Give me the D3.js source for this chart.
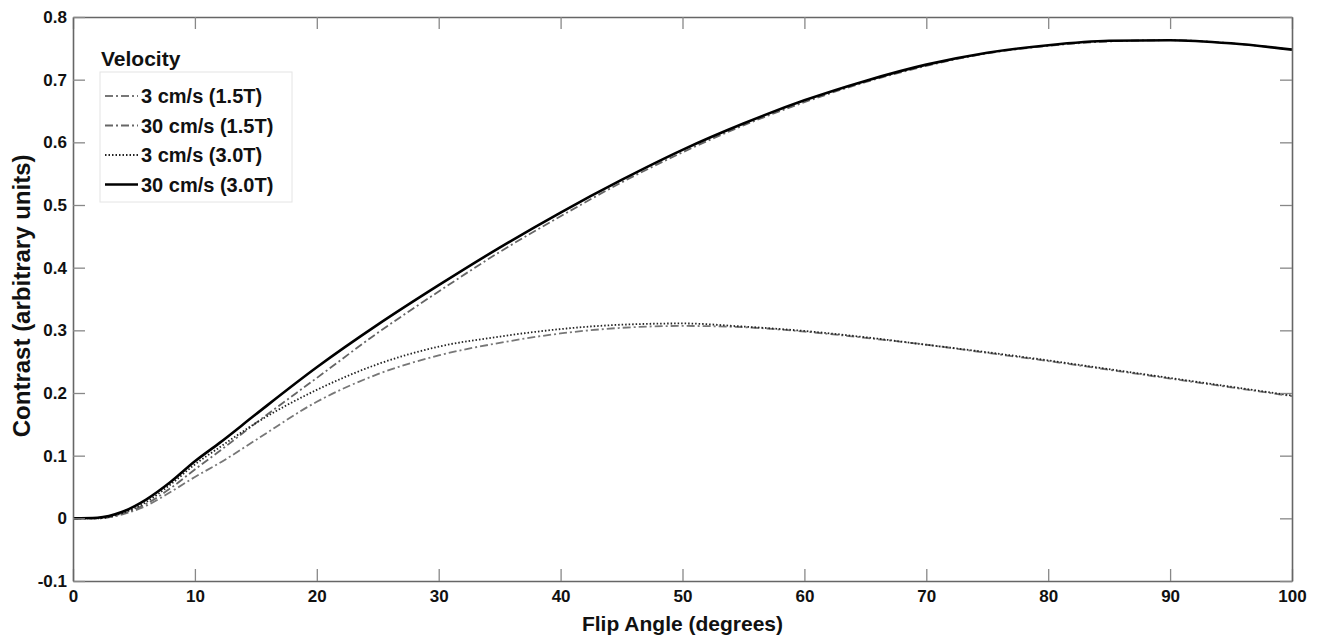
<!DOCTYPE html>
<html>
<head>
<meta charset="utf-8">
<script src="https://cdn.jsdelivr.net/npm/d3@7.9.0/dist/d3.min.js"></script>
<style>
  html, body { margin: 0; padding: 0; background: #fff; }
  svg { display: block; }
  text { font-family: "Liberation Sans", Arial, sans-serif; font-weight: bold; fill: #111; }
</style>
</head>
<body>
<svg id="chart"></svg>
<script>
const flipAngles = [0, 2, 4, 6, 8, 10, 12, 15, 20, 25, 30, 35, 40, 45, 50, 55, 60, 65, 70, 75, 80, 85, 90, 95, 100];

// contrast for each velocity / field strength
const slow15 = [0, 0, 0.006, 0.02, 0.042, 0.066, 0.088, 0.125, 0.186, 0.23, 0.26, 0.28, 0.295, 0.304, 0.307, 0.305, 0.298, 0.288, 0.277, 0.264, 0.251, 0.237, 0.223, 0.209, 0.195];
const fast15 = [0, 0, 0.007, 0.023, 0.048, 0.078, 0.107, 0.152, 0.224, 0.296, 0.362, 0.425, 0.482, 0.536, 0.584, 0.627, 0.664, 0.696, 0.722, 0.742, 0.754, 0.761, 0.763, 0.758, 0.748];
const slow30 = [0, 0, 0.008, 0.026, 0.054, 0.086, 0.113, 0.152, 0.205, 0.246, 0.274, 0.29, 0.302, 0.309, 0.311, 0.306, 0.299, 0.289, 0.277, 0.265, 0.252, 0.238, 0.224, 0.21, 0.196];
const fast30 = [0, 0.001, 0.01, 0.03, 0.058, 0.091, 0.12, 0.166, 0.241, 0.309, 0.372, 0.432, 0.488, 0.54, 0.588, 0.63, 0.667, 0.698, 0.724, 0.743, 0.755, 0.762, 0.763, 0.758, 0.748];

const seriesNames = ["3 cm/s (1.5T)", "30 cm/s (1.5T)", "3 cm/s (3.0T)", "30 cm/s (3.0T)"];
const xTicks = [0, 10, 20, 30, 40, 50, 60, 70, 80, 90, 100];
const yTicks = [-0.1, 0, 0.1, 0.2, 0.3, 0.4, 0.5, 0.6, 0.7, 0.8];
const yTickLabels = ["-0.1", "0", "0.1", "0.2", "0.3", "0.4", "0.5", "0.6", "0.7", "0.8"];

// line looks, in the same order as the names
const styles = [
  { color: "#777", width: 1.8, dash: "8,3,2,3" },
  { color: "#666", width: 1.8, dash: "8,3,2,3" },
  { color: "#222", width: 1.8, dash: "1.5,2" },
  { color: "#000", width: 2.6, dash: null }
];

const W = 1320, H = 637;
const margin = { left: 73, right: 28, top: 17, bottom: 56 };

const svg = d3.select("#chart").attr("width", W).attr("height", H);

const x = d3.scaleLinear().domain([0, 100]).range([margin.left, W - margin.right]);
const y = d3.scaleLinear().domain([-0.1, 0.8]).range([H - margin.bottom, margin.top]);

const allSeries = [slow15, fast15, slow30, fast30];

// curves
const line = d3.line()
  .x((d, i) => x(flipAngles[i]))
  .y(d => y(d))
  .curve(d3.curveMonotoneX);

allSeries.forEach((vals, i) => {
  svg.append("path")
    .attr("d", line(vals))
    .attr("fill", "none")
    .attr("stroke", styles[i].color)
    .attr("stroke-width", styles[i].width)
    .attr("stroke-dasharray", styles[i].dash);
});

// axes, ticks pointing inside like a matlab box
const axisColor = "#666";
function styleAxis(g) {
  g.select(".domain").attr("stroke", axisColor).attr("stroke-width", 1.6);
  g.selectAll(".tick line").attr("stroke", "#888").attr("stroke-width", 1.3);
}

svg.append("g")
  .attr("transform", `translate(0,${y(-0.1)})`)
  .call(d3.axisBottom(x).tickValues(xTicks).tickSizeInner(-12).tickSizeOuter(0).tickPadding(6).tickFormat(d3.format("d")))
  .call(styleAxis)
  .call(g => g.selectAll("text").attr("font-size", 17).attr("dy", "0.9em"));

svg.append("g")
  .attr("transform", `translate(0,${y(0.8)})`)
  .call(d3.axisTop(x).tickValues(xTicks).tickSizeInner(-12).tickSizeOuter(0).tickFormat(""))
  .call(styleAxis);

svg.append("g")
  .attr("transform", `translate(${x(0)},0)`)
  .call(d3.axisLeft(y).tickValues(yTicks).tickSizeInner(-12).tickSizeOuter(0).tickPadding(6).tickFormat((d, i) => yTickLabels[i]))
  .call(styleAxis)
  .call(g => g.selectAll("text").attr("font-size", 17));

svg.append("g")
  .attr("transform", `translate(${x(100)},0)`)
  .call(d3.axisRight(y).tickValues(yTicks).tickSizeInner(-12).tickSizeOuter(0).tickFormat(""))
  .call(styleAxis);

// axis titles
svg.append("text")
  .attr("x", (x(0) + x(100)) / 2)
  .attr("y", 631)
  .attr("text-anchor", "middle")
  .attr("font-size", 21)
  .text("Flip Angle (degrees)");

svg.append("text")
  .attr("transform", `translate(30,${y(0.355)}) rotate(-90)`)
  .attr("text-anchor", "middle")
  .attr("font-size", 24)
  .text("Contrast (arbitrary units)");

// legend
const legend = svg.append("g").attr("transform", "translate(100,72)");
legend.append("rect")
  .attr("width", 192).attr("height", 130)
  .attr("fill", "#fff").attr("stroke", "#e4e4e4");
svg.append("text")
  .attr("x", 101).attr("y", 66)
  .attr("font-size", 21)
  .text("Velocity");

seriesNames.forEach((name, i) => {
  const ly = 24 + i * 29.5;
  legend.append("line")
    .attr("x1", 5).attr("x2", 38).attr("y1", ly).attr("y2", ly)
    .attr("stroke", styles[i].color)
    .attr("stroke-width", styles[i].width)
    .attr("stroke-dasharray", styles[i].dash);
  legend.append("text")
    .attr("x", 41).attr("y", ly + 7)
    .attr("font-size", 20)
    .text(name);
});
</script>
</body>
</html>
